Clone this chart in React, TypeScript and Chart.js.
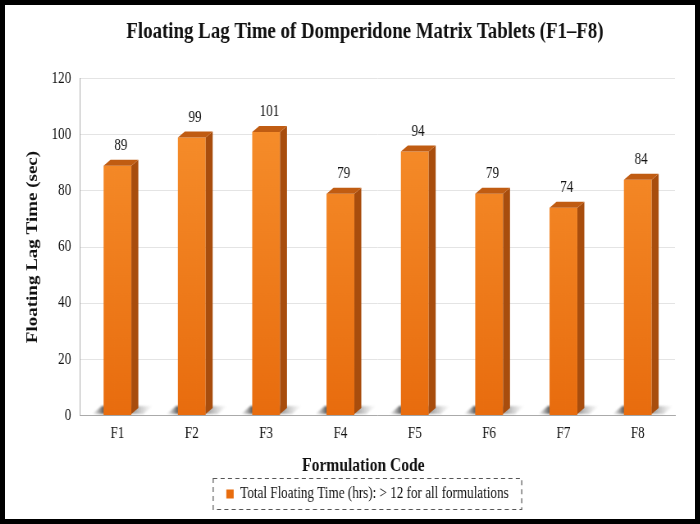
import { useEffect, useRef } from 'react'
import Chart from 'chart.js/auto'

const formulations = ['F1', 'F2', 'F3', 'F4', 'F5', 'F6', 'F7', 'F8']
const lagTimes = [89, 99, 101, 79, 94, 79, 74, 84]
const yTicks = [0, 20, 40, 60, 80, 100, 120]
const legendLabel = 'Total Floating Time (hrs): > 12 for all formulations'
const xTitle = 'Formulation Code'

const SERIF = '"Liberation Serif", "Times New Roman", serif'
// the reference is horizontally condensed, so the canvas is laid out wider and squeezed
const SQUEEZE = 0.82
const INNER_W = 690
const INNER_H = 514
const LOGICAL_W = Math.round(INNER_W / SQUEEZE)

const DEPTH_X = 8.5
const DEPTH_Y = 6
const TITLE_CX = 439
const LEGEND_CX = 442
const XTITLE_CX = 437
const XTITLE_PAD_BOTTOM = 1.5

const bar3d = {
  id: 'bar3d',
  afterLayout(chart: any) {
    // nudge title and legend to where the reference has them
    const t = chart.titleBlock
    if (t) {
      const dx = TITLE_CX - (t.left + t.right) / 2
      t.left += dx
      t.right += dx
    }
    const lg = chart.legend
    if (lg) {
      const dx = LEGEND_CX - (lg.left + lg.right) / 2
      lg.left += dx
      lg.right += dx
    }
  },
  beforeDatasetsDraw(chart: any) {
    const { ctx } = chart
    const meta = chart.getDatasetMeta(0)
    ctx.save()
    meta.data.forEach((bar: any) => {
      const half = bar.width / 2
      const l = bar.x - half
      const r = bar.x + half
      const b = bar.base - 1
      // floor shadow, dark on the left, fading out behind the side face
      const g = ctx.createLinearGradient(l - 14, 0, r + DEPTH_X + 18, 0)
      g.addColorStop(0, 'rgba(120,120,120,0)')
      g.addColorStop(0.18, 'rgba(70,70,70,0.85)')
      g.addColorStop(0.7, 'rgba(110,110,110,0.6)')
      g.addColorStop(1, 'rgba(170,170,170,0)')
      ctx.fillStyle = g
      ctx.filter = 'blur(1px)'
      ctx.beginPath()
      ctx.moveTo(l - 14, b)
      ctx.lineTo(l - 2, b - 8)
      ctx.lineTo(r + DEPTH_X + 18, b - 8)
      ctx.lineTo(r + DEPTH_X + 6, b)
      ctx.closePath()
      ctx.fill()
    })
    ctx.restore()
  },
  afterDatasetsDraw(chart: any) {
    const { ctx } = chart
    const meta = chart.getDatasetMeta(0)
    ctx.save()
    meta.data.forEach((bar: any, i: number) => {
      const half = bar.width / 2
      const l = bar.x - half
      const r = bar.x + half
      const t = bar.y
      const b = bar.base - 1
      ctx.fillStyle = '#a84d0d'
      ctx.beginPath()
      ctx.moveTo(r, t)
      ctx.lineTo(r + DEPTH_X, t - DEPTH_Y)
      ctx.lineTo(r + DEPTH_X, b - DEPTH_Y)
      ctx.lineTo(r, b)
      ctx.closePath()
      ctx.fill()
      ctx.fillStyle = '#c05c12'
      ctx.beginPath()
      ctx.moveTo(l, t)
      ctx.lineTo(l + DEPTH_X, t - DEPTH_Y)
      ctx.lineTo(r + DEPTH_X, t - DEPTH_Y)
      ctx.lineTo(r, t)
      ctx.closePath()
      ctx.fill()
      ctx.fillStyle = '#111'
      ctx.font = `16px ${SERIF}`
      ctx.textAlign = 'center'
      ctx.textBaseline = 'bottom'
      ctx.fillText(String(lagTimes[i]), bar.x + 4, t - DEPTH_Y - 6)
    })
    ctx.restore()
  },
  afterDraw(chart: any) {
    const { ctx } = chart
    ctx.save()
    // x axis title, drawn off-centre like the reference
    const xs = chart.scales.x
    ctx.fillStyle = '#111'
    ctx.font = `bold 19px ${SERIF}`
    ctx.textAlign = 'center'
    ctx.textBaseline = 'middle'
    ctx.fillText(xTitle, XTITLE_CX, xs.bottom - XTITLE_PAD_BOTTOM - 10)
    // dashed frame round the legend item
    const lg = chart.legend
    const hit = lg?.legendHitBoxes?.[0]
    if (hit) {
      const cy = hit.top + hit.height / 2
      ctx.strokeStyle = '#555'
      ctx.lineWidth = 1.2
      ctx.setLineDash([5, 4])
      ctx.strokeRect(hit.left - 16, cy - 15.5, hit.width + 32, 31)
    }
    ctx.restore()
  },
}

export default function App() {
  const canvasRef = useRef<HTMLCanvasElement>(null)
  const chartRef = useRef<Chart | null>(null)

  useEffect(() => {
    document.body.style.margin = '0'
    const ctx = canvasRef.current?.getContext('2d')
    if (!ctx) return
    chartRef.current?.destroy()

    chartRef.current = new Chart(ctx, {
      type: 'bar',
      data: {
        labels: formulations,
        datasets: [
          {
            label: legendLabel,
            data: lagTimes,
            backgroundColor: (c: any) => {
              const area = c.chart.chartArea
              if (!area) return '#ee7b1f'
              const g = c.chart.ctx.createLinearGradient(0, area.top, 0, area.bottom)
              g.addColorStop(0, '#f8922f')
              g.addColorStop(1, '#e86c0e')
              return g
            },
            borderWidth: 0,
            barPercentage: 0.374,
            categoryPercentage: 1,
          },
        ],
      },
      options: {
        responsive: true,
        maintainAspectRatio: false,
        animation: false,
        layout: { padding: { top: 0, right: 24, bottom: 7, left: 8 } },
        scales: {
          x: {
            grid: { display: false },
            border: { color: '#aaa' },
            ticks: { color: '#111', font: { family: SERIF, size: 16 }, padding: 1 },
            title: {
              display: true,
              text: xTitle,
              color: 'rgba(0,0,0,0)',
              font: { family: SERIF, size: 19, weight: 'bold' },
              padding: { top: 9, bottom: XTITLE_PAD_BOTTOM },
            },
          },
          y: {
            min: 0,
            max: 120,
            afterBuildTicks: (axis: any) => {
              axis.ticks = yTicks.map((v) => ({ value: v }))
            },
            grid: { color: '#e4e4e4', drawTicks: false },
            border: { color: '#aaa' },
            ticks: { color: '#111', font: { family: SERIF, size: 16 }, padding: 11 },
            title: {
              display: true,
              text: 'Floating Lag Time (sec)',
              color: '#111',
              font: { family: SERIF, size: 19, weight: 'bold' },
              padding: { top: 15, bottom: 0 },
            },
          },
        },
        plugins: {
          title: {
            display: true,
            text: 'Floating Lag Time of Domperidone Matrix Tablets (F1\u2013F8)',
            color: '#111',
            font: { family: SERIF, size: 23, weight: 'bold' },
            padding: { top: 13, bottom: 33 },
          },
          legend: {
            position: 'bottom',
            labels: {
              color: '#111',
              font: { family: SERIF, size: 16 },
              boxWidth: 9,
              boxHeight: 9,
              padding: 8,
            },
          },
          tooltip: { enabled: false },
        },
      },
      plugins: [bar3d],
    })

    return () => {
      chartRef.current?.destroy()
      chartRef.current = null
    }
  }, [])

  return (
    <div
      style={{
        width: 700,
        height: 524,
        boxSizing: 'border-box',
        border: '5px solid #000',
        background: '#fff',
        overflow: 'hidden',
      }}
    >
      <div
        style={{
          width: LOGICAL_W,
          height: INNER_H,
          transform: `scaleX(${SQUEEZE})`,
          transformOrigin: '0 0',
        }}
      >
        <canvas ref={canvasRef} />
      </div>
    </div>
  )
}
